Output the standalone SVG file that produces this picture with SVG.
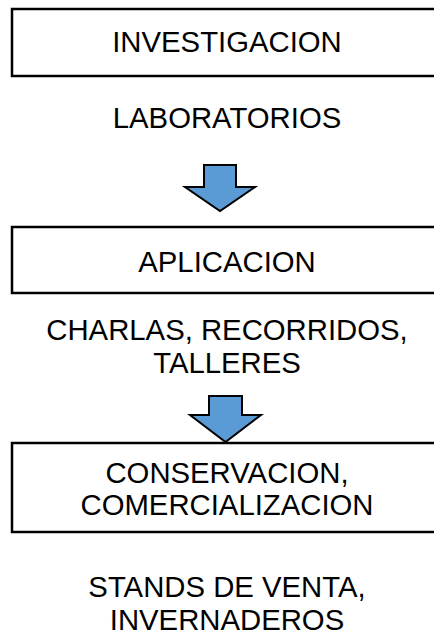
<svg xmlns="http://www.w3.org/2000/svg" width="434" height="635" viewBox="0 0 434 635">
<style>
.box{fill:#fff;stroke:#000;stroke-width:2.5}
.arr{fill:#5B9BD5;stroke:#000;stroke-width:2;stroke-linejoin:miter}
text{font-family:"Liberation Sans",Arial,sans-serif;font-size:29.3px;fill:#000;text-anchor:middle}
</style>
<rect width="434" height="635" fill="#fff"/>
<g id="investigacion">
<rect class="box" x="12" y="9" width="440" height="67"/>
<text x="227" y="52">INVESTIGACION</text>
</g>
<g id="laboratorios">
<text x="227" y="128">LABORATORIOS</text>
</g>
<g id="aplicacion">
<rect class="box" x="12" y="227" width="440" height="66"/>
<text x="227" y="272">APLICACION</text>
</g>
<g id="charlas">
<text x="227" y="340">CHARLAS, RECORRIDOS,</text>
<text x="227" y="373">TALLERES</text>
</g>
<g id="conservacion">
<rect class="box" x="12" y="443" width="440" height="89"/>
<text x="227" y="483">CONSERVACION,</text>
<text x="227" y="515">COMERCIALIZACION</text>
</g>
<g id="stands">
<text x="227" y="597">STANDS DE VENTA,</text>
<text x="227" y="630">INVERNADEROS</text>
</g>
<g id="connectors">
<polygon class="arr" points="204,165 236,165 236,187 255,187 220,211 185,187 204,187"/>
<polygon class="arr" points="209,396 242,396 242,415 261,415 225.5,442 190,415 209,415"/>
</g>
</svg>
